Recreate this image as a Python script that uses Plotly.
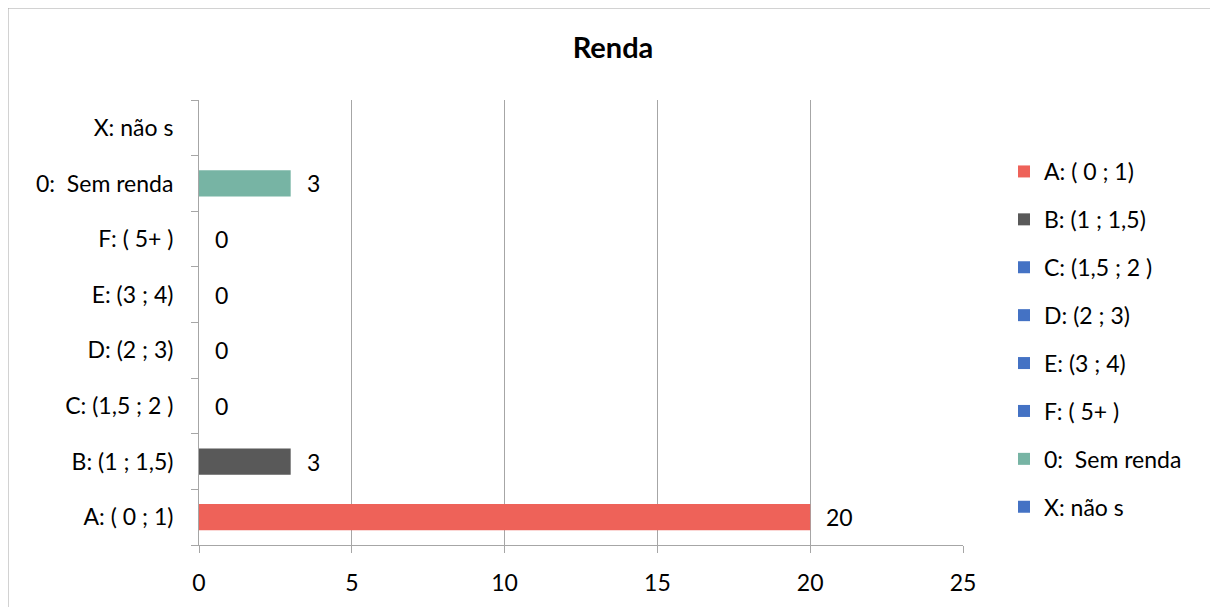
import plotly.graph_objects as go

categories = ["A: ( 0 ; 1)", "B: (1 ; 1,5)", "C: (1,5 ; 2 )", "D: (2 ; 3)",
              "E: (3 ; 4)", "F: ( 5+ )", "0:  Sem renda", "X: não s"]
values = [20, 3, 0, 0, 0, 0, 3, None]
colors = ["#EE6259", "#595959", "#4472C4", "#4472C4", "#4472C4", "#4472C4", "#77B4A4", "#4472C4"]
x_ticks = [0, 5, 10, 15, 20, 25]

FONT = "Lato, Calibri, Carlito, sans-serif"
FS = 23
# page body has an 8px margin; work in figure coordinates = screen - 8
W, H = 1210, 599
ml, mr, mt, mb = 191, 255, 92, 62
pw, ph = W - ml - mr, H - mt - mb

fig = go.Figure()
for i, (c, v, col) in enumerate(zip(categories, values, colors)):
    fig.add_trace(go.Bar(
        y=[c], x=[v], orientation="h", name=c,
        marker=dict(color=col, line=dict(width=0)),
        width=0.47, legendgroup=f"g{i}", showlegend=True,
    ))
    if v is not None:
        fig.add_annotation(x=v, y=c, text=str(v), showarrow=False,
                           xanchor="left", yanchor="middle", xshift=14,
                           font=dict(family=FONT, size=FS, color="#000000"))

grid = "#A6A6A6"
fig.update_layout(
    width=W, height=H,
    margin=dict(l=ml, r=mr, t=mt, b=mb),
    paper_bgcolor="white", plot_bgcolor="white",
    barmode="overlay",
    font=dict(family=FONT, size=FS, color="#000000"),
    title=dict(text="<b>Renda</b>", x=605 / W, xref="container",
               xanchor="center", y=1 - 40 / H, yanchor="middle",
               font=dict(family=FONT, size=29, color="#000000")),
    xaxis=dict(range=[0, 25], tickvals=x_ticks, showgrid=True, gridcolor=grid, gridwidth=1,
               zeroline=False, showline=True, linecolor=grid, linewidth=1,
               ticks="outside", ticklen=7, tickcolor=grid, ticklabelstandoff=10,
               tickfont=dict(family=FONT, size=FS, color="#000000"), fixedrange=True),
    yaxis=dict(categoryorder="array", categoryarray=categories, showgrid=False,
               showline=True, linecolor=grid, linewidth=1, zeroline=False,
               ticks="outside", tickson="boundaries", ticklen=7, tickcolor=grid,
               ticklabelstandoff=20, range=[-0.5, len(categories) - 0.5],
               tickfont=dict(family=FONT, size=FS, color="#000000")),
    legend=dict(x=(996 - ml) / pw, xanchor="left", y=1 - (159 - 17 - mt) / ph, yanchor="top",
                traceorder="grouped", tracegroupgap=15,
                font=dict(family=FONT, size=FS, color="#000000"),
                bgcolor="rgba(0,0,0,0)", itemclick=False),
    showlegend=True,
)

fig.add_shape(type="rect", xref="paper", yref="paper",
              x0=(0 - ml) / pw, x1=(1207 - ml) / pw,
              y0=1 - (615 - mt) / ph, y1=1 + (mt - 0) / ph,
              line=dict(color="#A6A6A6", width=1), fillcolor="rgba(0,0,0,0)", layer="below")

fig.write_html("out.html")
